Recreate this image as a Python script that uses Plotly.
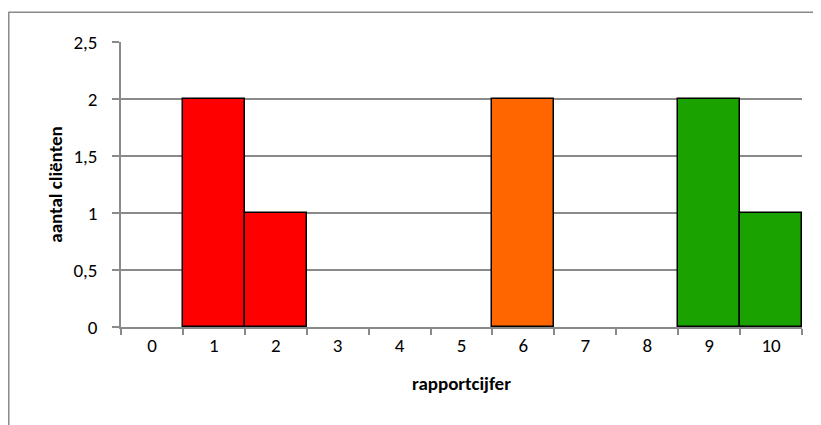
import plotly.graph_objects as go

categories = ["0", "1", "2", "3", "4", "5", "6", "7", "8", "9", "10"]
values = [0, 2, 1, 0, 0, 0, 2, 0, 0, 2, 1]
bar_colors = ["#FF0000", "#FF0000", "#FF0000", "#FF6600", "#FF6600", "#FF6600",
              "#FF6600", "#1AA300", "#1AA300", "#1AA300", "#1AA300"]
y_ticks = [0, 0.5, 1, 1.5, 2, 2.5]
y_tick_labels = ["0", "0,5", "1", "1,5", "2", "2,5"]
x_title = "rapportcijfer"
y_title = "aantal cliënten"

FONT = "Carlito, Calibri, Lato, sans-serif"
GRAY = "#8a8a8a"

fig = go.Figure(go.Bar(
    x=categories,
    y=values,
    width=1,
    marker=dict(
        color=bar_colors,
        line=dict(color="black", width=[1.5 if v > 0 else 0 for v in values]),
    ),
))

fig.update_layout(
    width=813, height=417,
    margin=dict(l=113, r=19, t=34, b=98),
    paper_bgcolor="white", plot_bgcolor="white",
    font=dict(family=FONT, size=19, color="black"),
    showlegend=False,
    bargap=0,
    shapes=[
        dict(type="line", xref="paper", yref="paper", x0=-0.1648, x1=-0.1648, y0=1.106, y1=-0.5,
             line=dict(color=GRAY, width=1.5)),
        dict(type="line", xref="paper", yref="paper", x0=-0.1648, x1=1.1, y0=1.104, y1=1.104,
             line=dict(color=GRAY, width=1.5)),
    ],
)

fig.update_xaxes(
    type="category",
    showgrid=False,
    showline=True, linecolor=GRAY, linewidth=1.5,
    ticks="outside", tickson="boundaries", ticklen=6, tickcolor=GRAY, tickwidth=1.5,
    title=dict(text="<b>" + x_title + "</b>", standoff=21, font=dict(size=19)),
    range=[-0.5, 10.5],
)
fig.update_yaxes(
    range=[0, 2.5],
    tickvals=y_ticks, ticktext=y_tick_labels,
    showgrid=True, gridcolor=GRAY, gridwidth=1.5,
    showline=True, linecolor=GRAY, linewidth=1.5,
    ticks="outside", ticklen=7, tickcolor=GRAY, tickwidth=1.5,
    ticklabelstandoff=11,
    zeroline=False,
    title=dict(text="<b>" + y_title + "</b>", standoff=6, font=dict(size=19)),
)

fig.write_html("out.html")
